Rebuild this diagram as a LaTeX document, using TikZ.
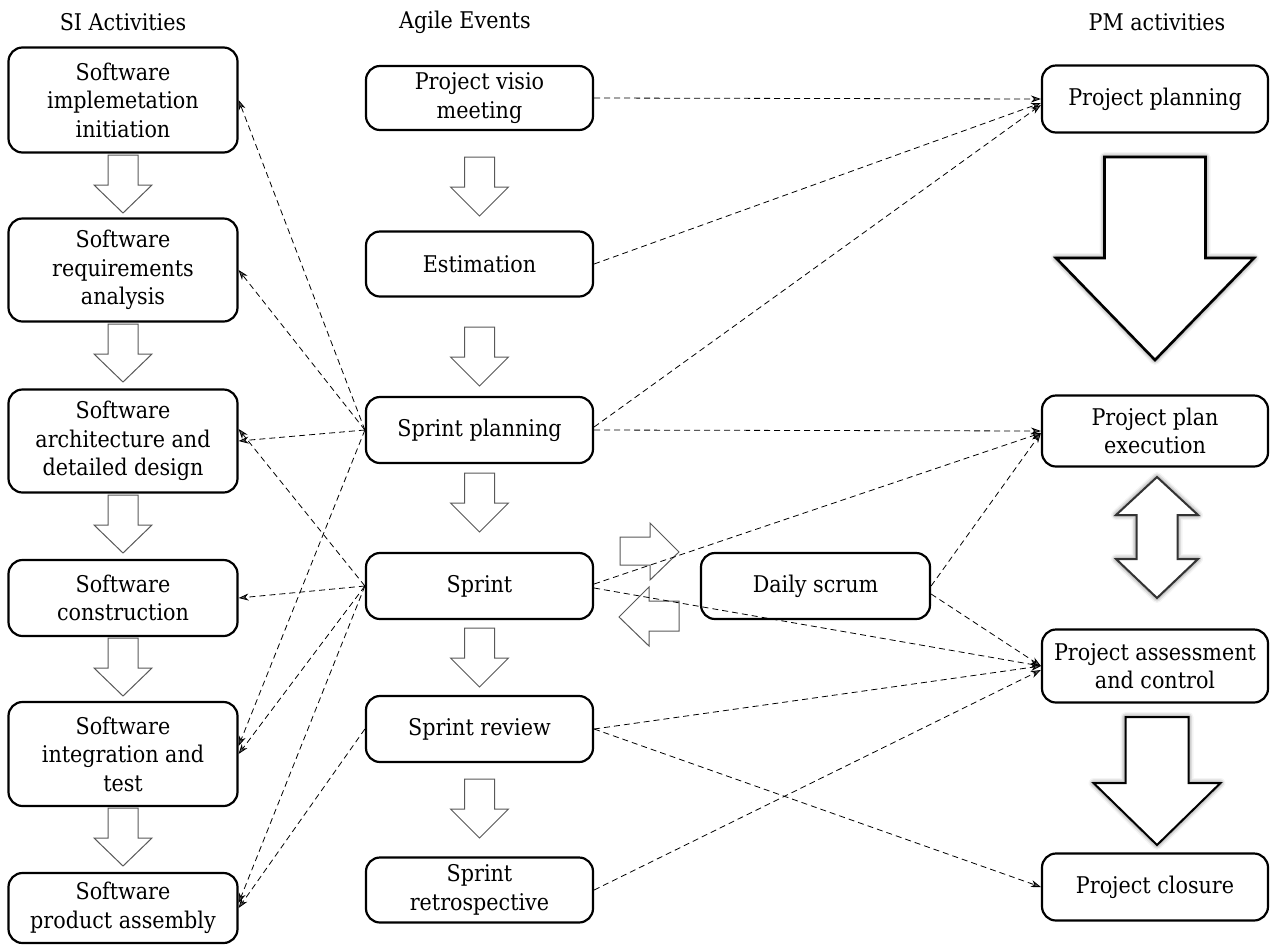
\documentclass[tikz,border=0pt]{standalone}
\usepackage{fontspec}
\setmainfont{DejaVu Serif Condensed}
\usetikzlibrary{arrows.meta,calc,shadows.blur}

% block arrow pointing down: [style]{centre x}{half body}{half head}{top}{head base}{tip}
\newcommand{\blockdown}[7][]{%
  \path[#1] ({#2-#3},#5) -- ({#2+#3},#5) -- ({#2+#3},#6) -- ({#2+#4},#6)
    -- (#2,#7) -- ({#2-#4},#6) -- ({#2-#3},#6) -- cycle;}

\begin{document}
\begin{tikzpicture}[x=1pt,y=-1pt,
  every node/.style={font=\fontsize{23}{28.5}\selectfont},
  box/.style={draw, line width=2.2pt, rounded corners=14pt, align=center, inner sep=0pt},
  sibox/.style={box, minimum width=229pt},
  agbox/.style={box, minimum width=227pt},
  pmbox/.style={box, minimum width=226pt},
  link/.style={dash pattern=on 6pt off 4pt, line width=0.8pt,
               -{Stealth[length=10pt,width=7pt]}},
  smallarrow/.style={draw=black!65, line width=1pt, fill=white},
  bigarrow/.style={draw=black, line width=2.6pt, fill=white,
    blur shadow={shadow xshift=0pt, shadow yshift=0pt,
                 shadow blur radius=5pt, shadow opacity=70}}]

\useasboundingbox (0,0) rectangle (1274,946);

% column headings
\node (hsi) at (123,22) {SI Activities};
\node (hag) at (465,22) {Agile Events};
\node (hpm) at (1157,22) {PM activities};

% SI activities
\node[sibox, minimum height=105pt] (si1) at (123,100) {Software\\implemetation\\initiation};
\node[sibox, minimum height=103pt] (si2) at (123,270) {Software\\requirements\\analysis};
\node[sibox, minimum height=103pt] (si3) at (123,441) {Software\\architecture and\\detailed design};
\node[sibox, minimum height=76pt]  (si4) at (123,598) {Software\\construction};
\node[sibox, minimum height=104pt] (si5) at (123,754) {Software\\integration and\\test};
\node[sibox, minimum height=70pt]  (si6) at (123,908) {Software\\product assembly};

% agile events
\node[agbox, minimum height=64pt] (ag1) at (479.5,98)  {Project visio\\meeting};
\node[agbox, minimum height=65pt] (ag2) at (479.5,264) {Estimation};
\node[agbox, minimum height=66pt] (ag3) at (479.5,430) {Sprint planning};
\node[agbox, minimum height=66pt] (ag4) at (479.5,586) {Sprint};
\node[agbox, minimum height=66pt] (ag5) at (479.5,729) {Sprint review};
\node[agbox, minimum height=65pt] (ag6) at (479.5,890) {Sprint\\retrospective};
\node[box, minimum width=229pt, minimum height=66pt] (ds) at (815.5,586) {Daily scrum};

% PM activities
\node[pmbox, minimum height=67pt] (pm1) at (1155,99)  {Project planning};
\node[pmbox, minimum height=71pt] (pm2) at (1155,431) {Project plan\\execution};
\node[pmbox, minimum height=73pt] (pm3) at (1155,666) {Project assessment\\and control};
\node[pmbox, minimum height=67pt] (pm4) at (1155,887) {Project closure};

% flow arrows between SI activities and between agile events
\foreach \t in {155,324,495,638,808}
  {\blockdown[smallarrow]{123}{15}{29}{\t}{\t+30}{\t+58}}
\foreach \t in {157,327,473,628,779}
  {\blockdown[smallarrow]{479.5}{15}{29}{\t}{\t+30}{\t+59}}

% sprint <-> daily scrum loop
\path[smallarrow] (620,537) -- (650,537) -- (650,523) -- (679,552) -- (650,580)
  -- (650,565) -- (620,565) -- cycle;
\path[smallarrow] (619,617) -- (649,587) -- (649,601) -- (679,601) -- (679,631)
  -- (649,631) -- (649,646) -- cycle;

% PM flow
\blockdown[bigarrow]{1155}{50.5}{99}{157}{258}{360}
\path[bigarrow, line width=2pt, draw=black!80]
  (1157,477) -- (1198,515) -- (1177.5,515) -- (1177.5,559) -- (1198,559)
  -- (1157,598) -- (1116,559) -- (1136.5,559) -- (1136.5,515) -- (1116,515) -- cycle;
\blockdown[bigarrow, line width=2pt]{1157}{31.5}{63.5}{717}{783}{845}

% agile events -> PM activities
\draw[link] (ag1.east) -- (pm1.west);
\draw[link] (ag2.east) -- ($(pm1.west)+(0,4)$);
\draw[link] ($(ag3.east)+(0,-3)$) -- ($(pm1.west)+(0,6)$);
\draw[link] (ag3.east) -- (pm2.west);
\draw[link] ($(ag4.east)+(0,-2)$) -- ($(pm2.west)+(0,2)$);
\draw[link] ($(ag4.east)+(0,2)$) -- (pm3.west);
\draw[link] (ds.east) -- ($(pm2.west)+(0,2)$);
\draw[link] ($(ds.east)+(0,8)$) -- (pm3.west);
\draw[link] (ag5.east) -- (pm3.west);
\draw[link] (ag5.east) -- (pm4.west);
\draw[link] (ag6.east) -- ($(pm3.west)+(0,4)$);

% agile events -> SI activities
\draw[link] (ag3.west) -- (si1.east);
\draw[link] (ag3.west) -- (si2.east);
\draw[link] (ag3.west) -- (si3.east);
\draw[link] (ag3.west) -- ($(si5.east)+(0,-8)$);
\draw[link] (ag4.west) -- ($(si3.east)+(0,-12)$);
\draw[link] (ag4.west) -- (si4.east);
\draw[link] (ag4.west) -- (si5.east);
\draw[link] (ag4.west) -- ($(si6.east)+(0,-5)$);
\draw[link] (ag5.west) -- (si6.east);

\end{tikzpicture}
\end{document}
